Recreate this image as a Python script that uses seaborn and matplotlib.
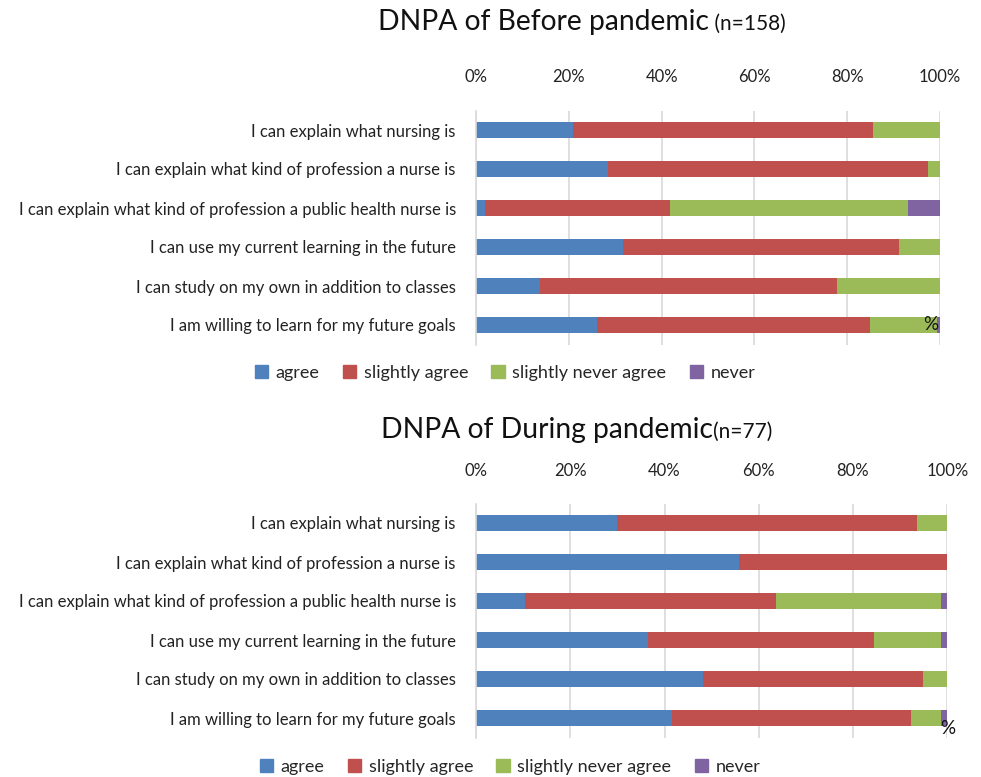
import matplotlib
matplotlib.use("Agg")
import matplotlib.pyplot as plt
import matplotlib.patches as mpatches
import numpy as np
import pandas as pd
import seaborn as sns

sns.set_theme(style="white")
plt.rcParams["font.family"] = ["Lato", "DejaVu Sans"]

items = [
    "I can explain what nursing is",
    "I can explain what kind of profession a nurse is",
    "I can explain what kind of profession a public health nurse is",
    "I can use my current learning in the future",
    "I can study on my own in addition to classes",
    "I am willing to learn for my future goals",
]
levels = ["agree", "slightly agree", "slightly never agree", "never"]
colors = ["#4F81BD", "#C0504D", "#9BBB59", "#8064A2"]

# percentages per response level, before pandemic (n=158)
before_agree = [20.9, 28.5, 1.9, 31.6, 13.9, 26.0]
before_slightly = [64.6, 69.0, 39.9, 59.5, 63.9, 58.9]
before_slightly_never = [14.5, 2.5, 51.3, 8.9, 22.2, 14.5]
before_never = [0.0, 0.0, 6.9, 0.0, 0.0, 0.6]

# percentages per response level, during pandemic (n=77)
during_agree = [29.9, 55.8, 10.4, 36.4, 48.1, 41.6]
during_slightly = [63.6, 44.2, 53.2, 48.0, 46.7, 50.6]
during_slightly_never = [6.5, 0.0, 35.1, 14.3, 5.2, 6.5]
during_never = [0.0, 0.0, 1.3, 1.3, 0.0, 1.3]

panels = [
    ("DNPA of Before pandemic", " (n=158)",
     [before_agree, before_slightly, before_slightly_never, before_never]),
    ("DNPA of During pandemic", "(n=77)",
     [during_agree, during_slightly, during_slightly_never, during_never]),
]

W, H = 981, 777
fig = plt.figure(figsize=(W / 100, H / 100), dpi=100)

axes_px = [(476, 110.5, 464), (476, 503.5, 471.3)]
title_px = [(378, 22), (381, 430)]
legend_px = [(505, 373), (510, 767)]
pct_px = [(931, 324), (948, 729)]
tick_pad = [18.5, 18]

for (main, sub, series), (x0, y0, w), (tx, ty), (lx, ly), (px, py), tp in zip(
        panels, axes_px, title_px, legend_px, pct_px, tick_pad):
    h = 234
    ax = fig.add_axes([x0 / W, 1 - (y0 + h) / H, w / W, h / H])
    cum = np.cumsum(np.array(series), axis=0)
    # draw the stacked layers from the outermost cumulative total inward
    for k in range(len(levels) - 1, -1, -1):
        df = pd.DataFrame({"item": items, "value": cum[k]})
        sns.barplot(data=df, x="value", y="item", orient="h", color=colors[k],
                    saturation=1, width=0.41, ax=ax, linewidth=0)
    ax.set_xlim(0, 100)
    ax.set_ylim(5.5, -0.5)
    ax.set_xticks(np.arange(0, 101, 20))
    ax.set_xticklabels([f"{v}%" for v in range(0, 101, 20)])
    ax.xaxis.tick_top()
    ax.tick_params(axis="x", length=0, pad=tp, labelsize=12, colors="#222222")
    ax.tick_params(axis="y", length=0, pad=14.5, labelsize=12, colors="#222222")
    ax.set_xlabel("")
    ax.set_ylabel("")
    ax.grid(axis="x", color="#D9D9D9", linewidth=1.2)
    ax.set_axisbelow(True)
    for s in ["top", "right", "bottom"]:
        ax.spines[s].set_visible(False)
    ax.spines["left"].set_color("#D9D9D9")
    ax.spines["left"].set_linewidth(1.2)

    t1 = fig.text(tx / W, 1 - ty / H, main, fontsize=20.3, ha="left", va="center",
                  color="#111111")
    fig.canvas.draw()
    bb = t1.get_window_extent()
    fig.text(bb.x1 / W, 1 - (ty + 2) / H, sub, fontsize=15, ha="left",
             va="center", color="#111111")

    fig.text(px / W, 1 - py / H, "%", fontsize=13.5, ha="center", va="center",
             color="#111111")

    handles = [mpatches.Patch(color=c, label=l) for c, l in zip(colors, levels)]
    fig.legend(handles=handles, loc="center", bbox_to_anchor=(lx / W, 1 - ly / H),
               ncol=4, frameon=False, fontsize=13, handlelength=0.75,
               handleheight=0.75, handletextpad=0.4, columnspacing=1.3)

fig.savefig("out.png", dpi=100)
